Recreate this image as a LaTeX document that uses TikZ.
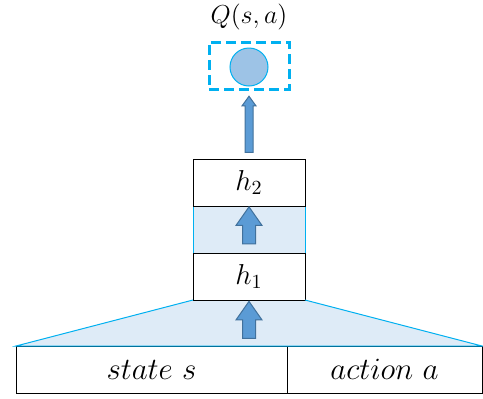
\RequirePackage{fix-cm}
\documentclass[tikz,border=0pt]{standalone}
\usepackage{amsmath}
\usepackage{xcolor}
\usetikzlibrary{positioning, shapes.arrows, backgrounds}

\definecolor{lineblue}{HTML}{00B0F0}
\definecolor{fillblue}{HTML}{DEEBF7}
\definecolor{dotblue}{HTML}{9DC3E6}
\definecolor{arrowfill}{HTML}{5B9BD5}
\definecolor{arrowdraw}{HTML}{41719C}

\begin{document}
\begin{tikzpicture}[
        x=0.5pt, y=-0.5pt,
        every node/.style={outer sep=0pt},
        layer/.style={draw, line width=0.5pt, minimum width=56pt, minimum height=23.5pt, font=\Large},
        inbox/.style={draw, line width=0.5pt, minimum height=23.5pt, font=\fontsize{15.5pt}{18pt}\selectfont},
        uparrow/.style={single arrow, draw=arrowdraw, fill=arrowfill, line width=0.5pt, rotate=90,
          inner sep=3pt, single arrow head extend=3.25pt, single arrow tip angle=70, minimum height=18.5pt},
      ]
      \useasboundingbox (0,0) rectangle (483,398);

      % Entradas
      \node[inbox, minimum width=135.5pt] (state) at (151.5,369.5) {$state\ s$};
      \node[inbox, minimum width=97.5pt, right=0pt of state] (action) {$action\ a$};

      % Camadas ocultas
      \node[layer, draw=lineblue, fill=fillblue] (mid) at (249,229.5) {};
      \node[layer, below=0pt of mid] (h1) {$h_1$};
      \node[layer, above=0pt of mid] (h2) {$h_2$};

      % Trapezio
      \begin{scope}[on background layer]
        \fill[fillblue] (state.north west) -- (h1.south west) -- (h1.south east) -- (action.north east) -- cycle;
      \end{scope}
      \draw[lineblue, line width=0.5pt] (h1.south west) -- (state.north west) -- (action.north east) -- (h1.south east);

      % Setas
      \node[uparrow] (arrin) at (249,324.5) {};
      \node[uparrow] (arrmid) at (249,230) {};
      \node[uparrow, inner sep=1.75pt, single arrow head extend=1.5pt, single arrow tip angle=72,
        minimum height=28pt] (arrout) at (249,127) {};

      % Saida
      \node[draw=lineblue, line width=1.5pt, dash pattern=on 5pt off 2.5pt,
        minimum width=40pt, minimum height=23.5pt] (qbox) at (249,65.5) {};
      \node[circle, draw=lineblue, fill=dotblue, line width=0.5pt, minimum size=19pt, inner sep=0pt] (qval) at (249,67) {};
      \node[font=\fontsize{13pt}{15pt}\selectfont] (qlabel) at (249,17) {$Q(s,a)$};

    \end{tikzpicture}
\end{document}
